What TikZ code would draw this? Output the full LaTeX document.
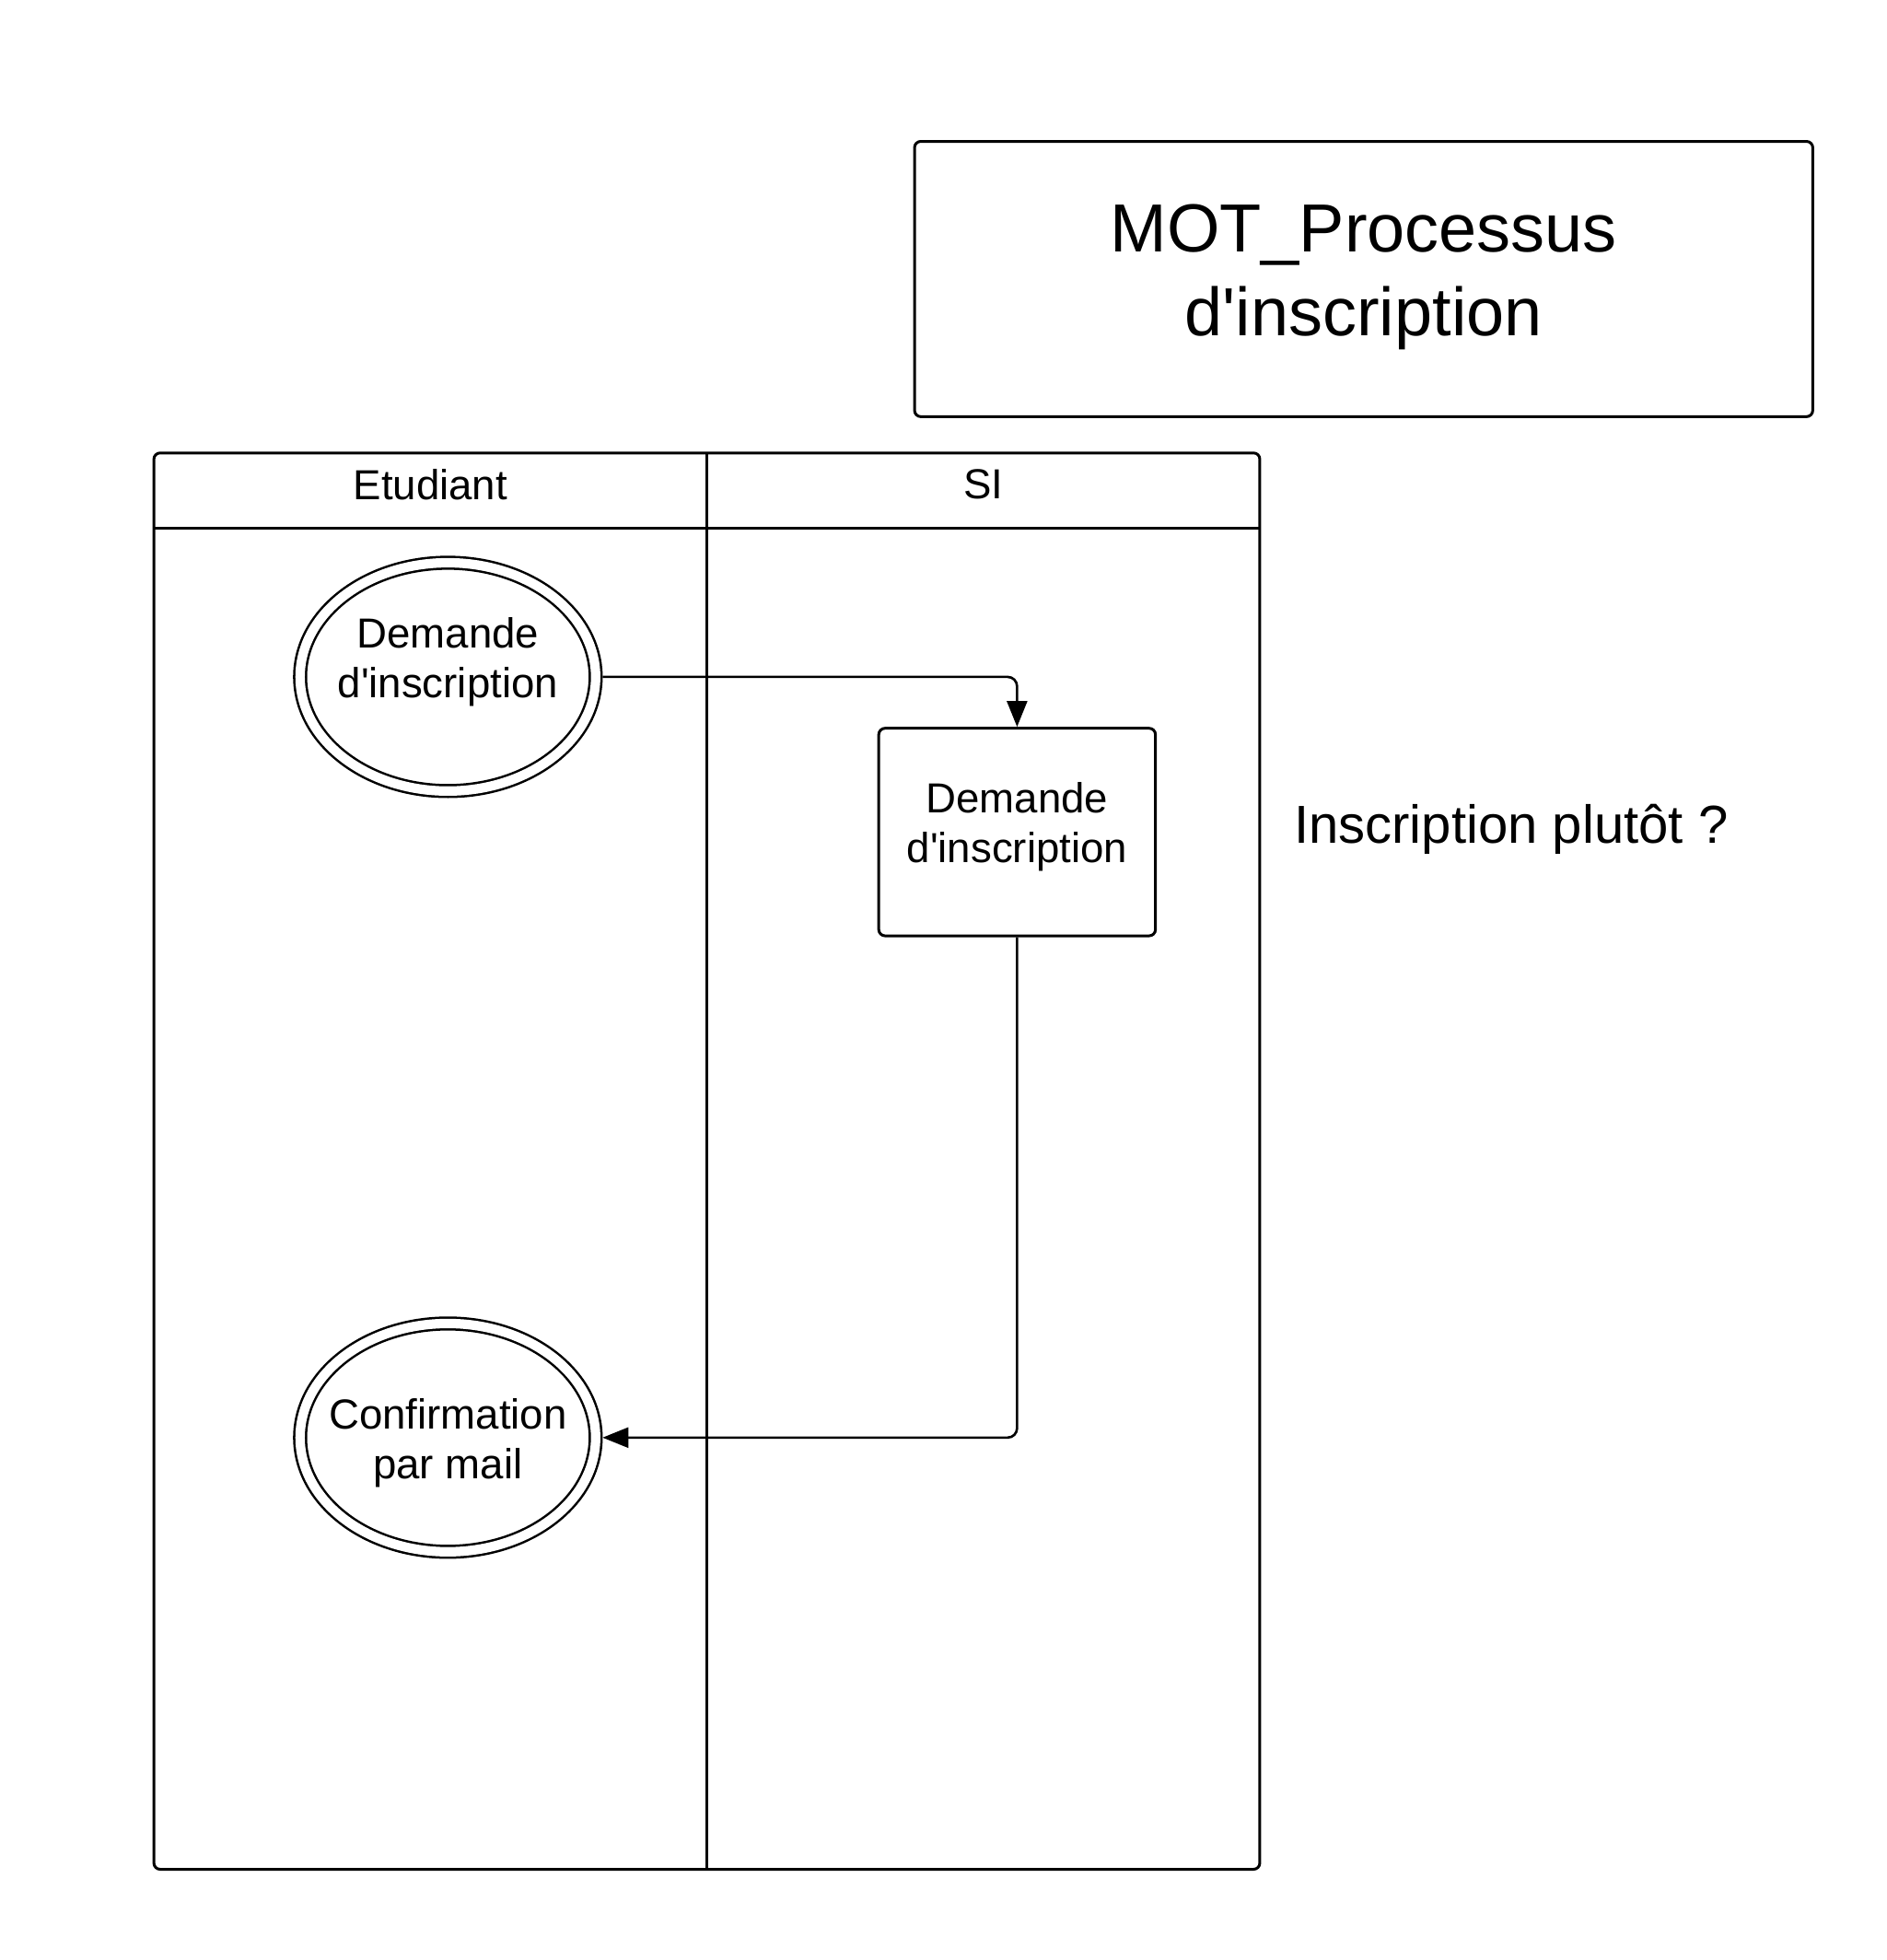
\documentclass[tikz,border=0pt]{standalone}
\usepackage{fontspec}
\setmainfont{Liberation Sans}
\usetikzlibrary{shapes.geometric,arrows.meta}
\newcommand{\apos}{\textquotesingle}
\tikzset{
  lane/.style={line width=1.25pt,rounded corners=0.1cm},
  event/.style={ellipse,draw,line width=1.05pt,double,double distance=0.15cm,
    minimum width=4.7cm,minimum height=3.63cm,inner xsep=-0.3cm,inner ysep=0pt,outer sep=0.11cm,
    align=center,font=\fontsize{19}{22.7}\selectfont},
  task/.style={rectangle,draw,line width=1.25pt,rounded corners=0.1cm,
    minimum width=4.4cm,minimum height=3.3cm,inner sep=0pt,
    align=center,font=\fontsize{19}{22.7}\selectfont},
  flow/.style={line width=1.1pt,rounded corners=0.15cm,-{Triangle[length=0.41cm,width=0.32cm]}},
}
\begin{document}
\begin{tikzpicture}[scale=0.9947]
    \useasboundingbox (0,0) rectangle (30.16,-31.33);
    \draw[lane] (14.62,-2.26) rectangle (28.98,-6.66);
    \node[align=center,font=\fontsize{30.8}{37.8}\selectfont] (titre) at (21.8,-4.43) {MOT\_Processus\\d\apos inscription};
    \draw[lane] (2.46,-7.24) rectangle (20.14,-29.88);
    \draw[line width=1.25pt] (2.46,-8.44) -- (20.14,-8.44);
    \draw[line width=1.25pt] (11.3,-7.24) -- (11.3,-29.88);
    \node[font=\fontsize{19}{22}\selectfont] (etudiant) at (6.88,-7.74) {Etudiant};
    \node[font=\fontsize{19}{22}\selectfont] (si) at (15.72,-7.74) {SI};
    \node[event,text depth=0.62cm] (demande) at (7.16,-10.82) {Demande\\d\apos inscription};
    \node[task,text depth=0.3cm] (traitement) at (16.26,-13.3) {Demande\\d\apos inscription};
    \node[event,text height=1.46cm] (confirmation) at (7.16,-22.98) {Confirmation\\par mail};
    \node[anchor=west,inner sep=0pt,font=\fontsize{24.2}{28}\selectfont] (remarque) at (20.68,-13.26) {Inscription plutôt ?};
    \draw[flow] (demande.east) -| (traitement.north);
    \draw[flow] (traitement.south) |- (confirmation.east);
\end{tikzpicture}
\end{document}
